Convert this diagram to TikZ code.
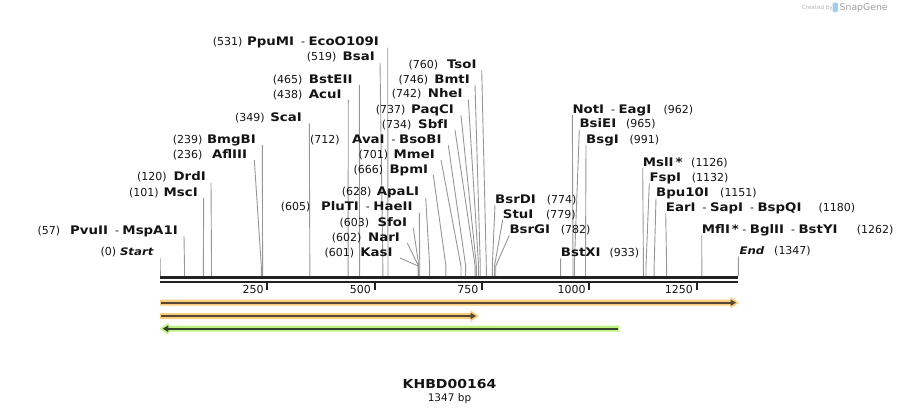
\documentclass[tikz,border=0pt]{standalone}
\usepackage{fontspec}
\setmainfont{DejaVu Sans}[BoldFeatures={FakeStretch=1.13},BoldItalicFeatures={FakeStretch=1.13}]
\definecolor{linegray}{RGB}{150,150,150}
\definecolor{bb}{RGB}{34,34,34}
\definecolor{txt}{RGB}{20,20,20}
\definecolor{orhalo}{RGB}{250,205,125}
\definecolor{ordark}{RGB}{85,72,52}
\definecolor{grhalo}{RGB}{188,240,128}
\definecolor{grdark}{RGB}{55,68,45}
\definecolor{snapblue}{RGB}{160,205,240}
\newcommand\enz[1]{{\fontsize{11.8}{13}\selectfont\textbf{#1}}}
\newcommand\seqpt[1]{{\fontsize{10.4}{13}\selectfont\textbf{\itshape #1}}}
\begin{document}
\begin{tikzpicture}[x=1pt,y=-1pt,
  lbl/.style={font=\fontsize{11}{13}\selectfont, inner sep=0pt, text=txt},
  conn/.style={draw=linegray, line width=0.9pt},
  backbone/.style={draw=bb},
  tickmark/.style={draw=bb, line width=2pt}]
\useasboundingbox (0,0) rectangle (899,415);

% watermark
\node[font=\fontsize{5.6}{7}\selectfont, text=black!30, anchor=base west, inner sep=0pt] (wm1) at (801.7,9.2) {Created by};
\fill[snapblue, rounded corners=1.2pt] (832.5,2.5) rectangle (838,12);
\node[font=\fontsize{9.3}{10}\selectfont, text=black!38, anchor=base west, inner sep=0pt] (wm2) at (839.5,10.2) {SnapGene};

% left-hanging labels
\foreach \i/\num/\nm/\yc/\xr/\xn/\tx/\site in {
 a/531/{\enz{PpuMI}\ \ - \enz{EcoO109I}}/41.5/379/212.7/387.7/531,
 b/519/{\enz{BsaI}}/56.7/375/306.7/380/519,
 c/465/{\enz{BstEII}}/79/352.7/272.7/359.3/465,
 d/438/{\enz{AcuI}}/94/341.7/272.7/348.3/438,
 e/349/{\enz{ScaI}}/117.3/302/235/309.3/349,
 f/239/{\enz{BmgBI}}/139/256/172.7/262.3/239,
 g/236/{\enz{AflIII}}/154/247.3/172.7/254.3/236,
 h/120/{\enz{DrdI}}/176.5/206/137/211/120,
 k/101/{\enz{MscI}}/192/198/129/203.7/101,
 l/57/{\enz{PvuII}\ \ - \enz{MspA1I}}/230/178/37.3/184/57,
 m/0/{\seqpt{Start}}/251.5/154/100.5/160/0,
 n/760/{\enz{TsoI}}/64/476.7/408.3/481.7/760,
 o/746/{\enz{BmtI}}/79/470/398.3/475/746,
 p/742/{\enz{NheI}}/93.7/462.7/391.7/468.3/742,
 q/737/{\enz{PaqCI}}/109.3/454/375.7/461/737,
 r/734/{\enz{SbfI}}/124/448.3/381.7/455/734,
 s/712/{\enz{AvaI}\ \ - \enz{BsoBI}}/139.3/441.7/310/448.3/712,
 t/701/{\enz{MmeI}}/154/435/358.3/441/701,
 u/666/{\enz{BpmI}}/169/428.3/353.3/433.3/666,
 v/628/{\enz{ApaLI}}/191.7/419.3/341.7/425.7/628,
 w/605/{\enz{PluTI}\ \ - \enz{HaeII}}/206.7/412.7/280.7/419.3/605,
 x/603/{\enz{SfoI}}/222/407.3/339.3/413.3/603,
 y/602/{\enz{NarI}}/237/400/331.7/407.3/602,
 z/601/{\enz{KasI}}/252/392.7/324.3/400/601}{
 \node[lbl, anchor=base east] (n\i) at (\xr,\yc+4) {\nm};
 \node[lbl, anchor=base west] (p\i) at (\xn,\yc+4) {(\num)};
 \coordinate (t\i) at (\tx,\yc+6);
 \coordinate (b\i) at ({160+0.42933*\site},266);
 \coordinate (s\i) at ({160+0.42933*\site},276);
 \draw[conn] (t\i) -- (b\i) -- (s\i);
}

% right-hanging labels
\foreach \i/\nm/\num/\yc/\xl/\xn/\tx/\site in {
 A/{\enz{NotI}\ \ - \enz{EagI}}/962/109/572.3/663.3/572.3/962,
 B/{\enz{BsiEI}}/965/123.7/579.3/626/579.3/965,
 C/{\enz{BsgI}}/991/139/586/629.3/586/991,
 D/{\enz{MslI\,*}}/1126/162/642.7/691/642.7/1126,
 E/{\enz{FspI}}/1132/177.3/649.3/691.7/649.3/1132,
 F/{\enz{Bpu10I}}/1151/192.3/656/720/656/1151,
 G/{\enz{EarI}\ \ - \enz{SapI}\ \ - \enz{BspQI}}/1180/207/665.7/818.3/665.7/1180,
 H/{\enz{MflI\,*}\ - \enz{BglII}\ \ - \enz{BstYI}}/1262/229/701.7/856.7/701.7/1262,
 I/{\seqpt{End}}/1347/250.5/739.3/774/738.3/1347,
 J/{\enz{BsrDI}}/774/199/495/546.7/495/774,
 K/{\enz{StuI}}/779/214/502.7/546/502.7/779,
 L/{\enz{BsrGI}}/782/229.3/509.3/560.7/509.3/782,
 M/{\enz{BstXI}}/933/252.3/560.7/609.3/560.7/933}{
 \node[lbl, anchor=base west] (n\i) at (\xl,\yc+4) {\nm};
 \node[lbl, anchor=base west] (p\i) at (\xn,\yc+4) {(\num)};
 \coordinate (t\i) at (\tx,\yc+6);
 \coordinate (b\i) at ({160+0.42933*\site},266);
 \coordinate (s\i) at ({160+0.42933*\site},276);
 \draw[conn] (t\i) -- (b\i) -- (s\i);
}

% backbone
\coordinate (bbL1) at (160,277.2); \coordinate (bbR1) at (738.3,277.2);
\coordinate (bbL2) at (160,281.8); \coordinate (bbR2) at (738.3,281.8);
\draw[backbone, line width=3pt] (bbL1) -- (bbR1);
\draw[backbone, line width=2.6pt] (bbL2) -- (bbR2);

% ticks
\foreach \v in {250,500,750,1000,1250}{
 \coordinate (ka\v) at ({160+0.42933*\v},283);
 \coordinate (kb\v) at ({160+0.42933*\v},290);
 \draw[tickmark] (ka\v) -- (kb\v);
 \node[lbl, anchor=base east] (kl\v) at ({160+0.42933*\v-3.5},293.5) {\v};
}

% features
\fill[orhalo] (160,299.7) -- (730.5,299.7) -- (730.5,296.9) -- (738.8,302.7) -- (730.5,308.5) -- (730.5,305.7) -- (160,305.7) -- cycle;
\draw[ordark, line width=2.4pt] (161,302.7) -- (732,302.7);
\fill[ordark] (730.5,299.4) -- (736,302.7) -- (730.5,306) -- cycle;

\fill[orhalo] (160,313) -- (470.5,313) -- (470.5,310.2) -- (478.8,316) -- (470.5,321.8) -- (470.5,319) -- (160,319) -- cycle;
\draw[ordark, line width=2.4pt] (161,316) -- (472,316);
\fill[ordark] (470.5,312.7) -- (476,316) -- (470.5,319.3) -- cycle;

\fill[grhalo] (159.8,328.7) -- (168.3,322.9) -- (168.3,325.7) -- (619.3,325.7) -- (619.3,331.7) -- (168.3,331.7) -- (168.3,334.5) -- cycle;
\draw[grdark, line width=2.4pt] (166,328.7) -- (617.8,328.7);
\fill[grdark] (162.8,328.7) -- (168.3,325.4) -- (168.3,332) -- cycle;

% title
\node[font=\fontsize{12.4}{15}\selectfont\bfseries, text=txt, inner sep=0pt] (title) at (449.5,384) {KHBD00164};
\node[font=\fontsize{10.5}{12}\selectfont, text=txt, inner sep=0pt] (bp) at (449.5,399) {1347 bp};
\end{tikzpicture}
\end{document}
